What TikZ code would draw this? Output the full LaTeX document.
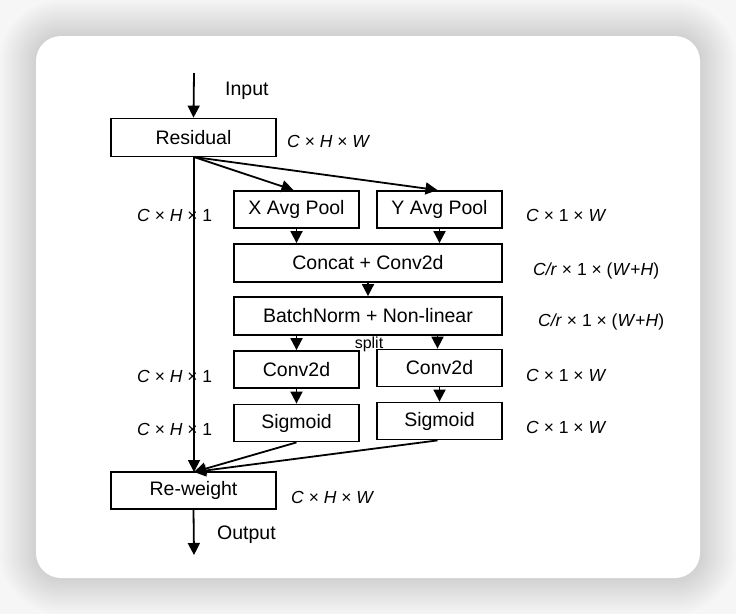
\documentclass[tikz,border=0pt]{standalone}
\usepackage{fontspec}
\setmainfont{Liberation Sans}
\usetikzlibrary{arrows.meta,calc}
\definecolor{bgray}{RGB}{246,246,246}
\tikzset{
  box/.style={draw=black, line width=1.8pt, fill=white, inner sep=0pt, font=\fontsize{19.5}{22}\selectfont},
  smallbox/.style={box, minimum width=125pt, minimum height=37pt},
  widebox/.style={box, minimum width=268pt, minimum height=38pt},
  endbox/.style={box, minimum width=165pt, minimum height=38pt},
  arr/.style={line width=1.8pt, -{Triangle[length=12pt,width=12pt]}},
  dim/.style={font=\fontsize{17.5}{20}\selectfont, anchor=west, inner sep=0pt},
  lbl/.style={font=\fontsize{19.5}{22}\selectfont, anchor=west, inner sep=0pt}
}
\newcommand{\iv}[1]{\textit{#1}}
\begin{document}
\begin{tikzpicture}[x=1pt,y=-1pt]
\useasboundingbox (0,0) rectangle (736,614);
\fill[bgray] (0,0) rectangle (736,614);
\foreach \d in {36,34,...,0}
  \fill[black,opacity=0.008,rounded corners=25pt+\d pt] (36-\d,36-\d) rectangle (700+\d,578+\d);
\fill[white,rounded corners=25pt] (36,36) rectangle (700,578);

\node[endbox] (res) at (193.5,137.5) {Residual};
\node[smallbox] (xp) at (296.5,209.5) {X Avg Pool};
\node[smallbox] (yp) at (439.5,209.5) {Y Avg Pool};
\node[widebox] (cc) at (368,263) {Concat + Conv2d};
\node[widebox] (bn) at (368,316) {BatchNorm + Non-linear};
\node[smallbox] (cl) at (296.5,369.5) {Conv2d};
\node[smallbox] (cr) at (439.5,368) {Conv2d};
\node[smallbox] (sl) at (296.5,423) {Sigmoid};
\node[smallbox] (sr) at (439.5,421) {Sigmoid};
\node[endbox, minimum height=37pt] (rw) at (193.5,490.5) {Re-weight};

\coordinate (in) at (194,73);
\coordinate (out) at (194,555);
\coordinate (rs) at (194,157);
\coordinate (rwt) at (194,472);

\draw[arr] (in) -- (res.north);
\draw[arr] (rs) -- ($(xp.north)+(-3,0)$);
\draw[arr] (rs) -- ($(yp.north)+(-2,0)$);
\draw[arr] (rs) -- (rwt);
\draw[arr] (xp.south) -- (xp.south |- cc.north);
\draw[arr] (yp.south) -- (yp.south |- cc.north);
\draw[arr] (cc.south) -- (bn.north);
\draw[arr] (cl.north |- bn.south) -- (cl.north);
\draw[arr] ($(cr.north |- bn.south)+(-2,0)$) -- ($(cr.north)+(-2,0)$);
\draw[arr] (cl.south) -- (sl.north);
\draw[arr] (cr.south) -- (sr.north);
\draw[arr] (sl.south) -- (rwt);
\draw[arr] ($(sr.south)+(-2,0)$) -- (rwt);
\draw[arr] (rw.south) -- (out);

\node[lbl] (inl) at (225,91) {Input};
\node[lbl] (outl) at (217,535) {Output};
\node[font=\fontsize{16}{18}\selectfont, inner sep=0pt] (sp) at (369,344) {split};

\node[dim] (d1) at (287,141) {\iv{C} × \iv{H} × \iv{W}};
\node[dim] (d2) at (137,215) {\iv{C} × \iv{H} × 1};
\node[dim] (d3) at (526,215) {\iv{C} × 1 × \iv{W}};
\node[dim] (d4) at (533,271) {\iv{C/r} × 1 × (\iv{W}+\iv{H})};
\node[dim] (d5) at (538,322) {\iv{C/r} × 1 × (\iv{W}+\iv{H})};
\node[dim] (d6) at (137,376) {\iv{C} × \iv{H} × 1};
\node[dim] (d7) at (526,375) {\iv{C} × 1 × \iv{W}};
\node[dim] (d8) at (137,429) {\iv{C} × \iv{H} × 1};
\node[dim] (d9) at (526,427) {\iv{C} × 1 × \iv{W}};
\node[dim] (d10) at (291,497) {\iv{C} × \iv{H} × \iv{W}};
\end{tikzpicture}
\end{document}
